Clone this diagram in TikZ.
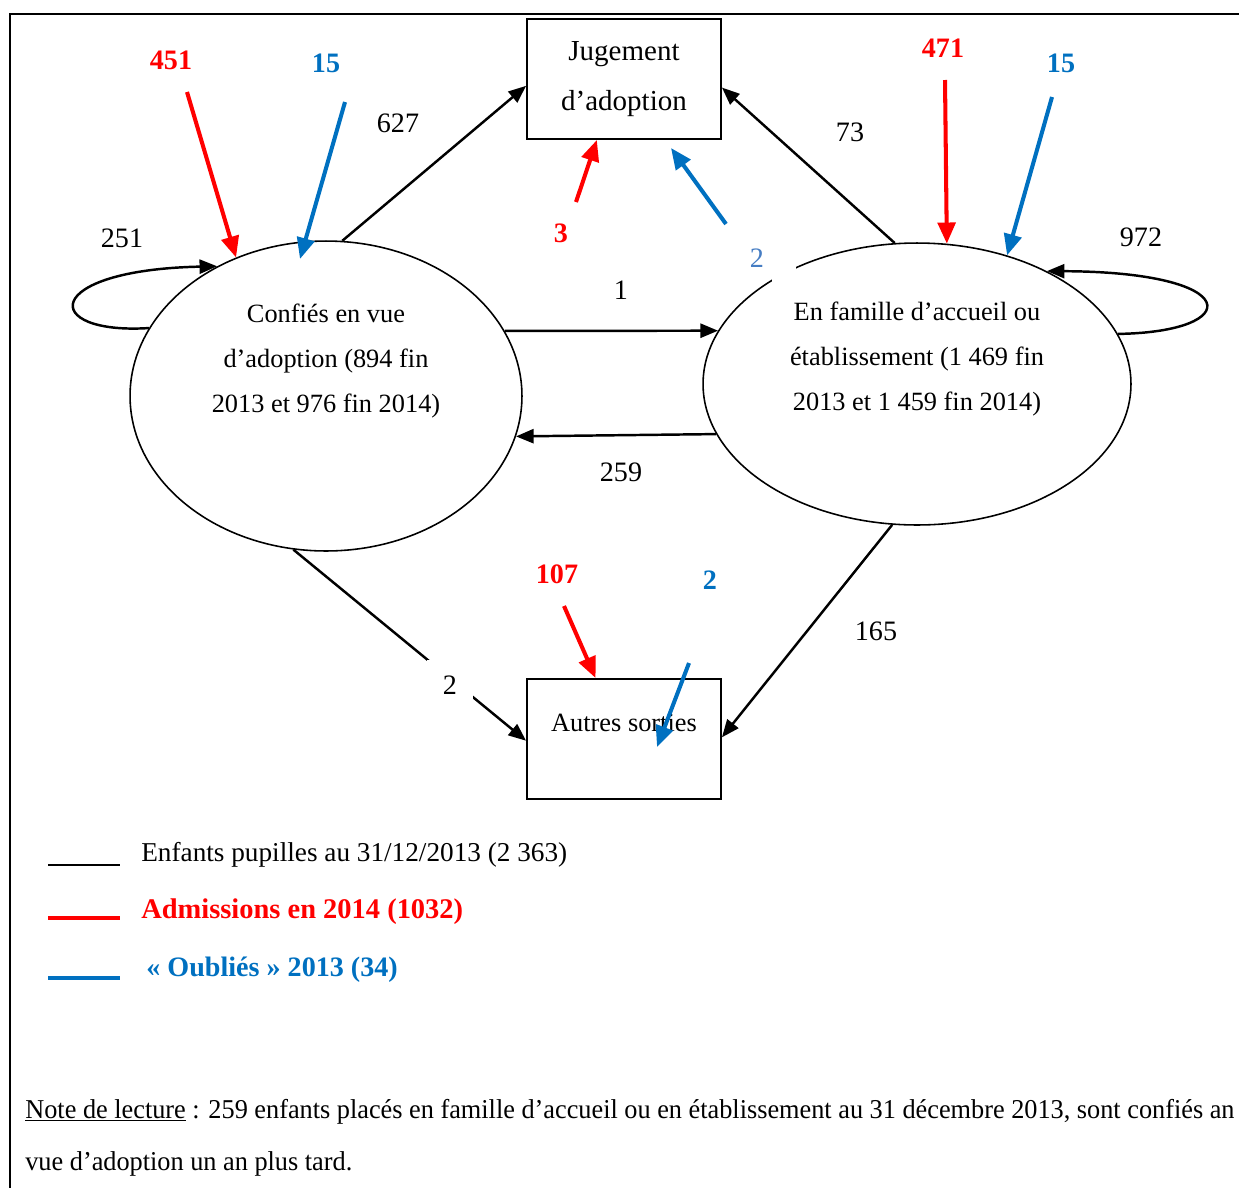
\documentclass[tikz,border=0pt]{standalone}
\usepackage{fontspec}
\usepackage{graphicx}
\setmainfont{Liberation Serif}
\usetikzlibrary{arrows.meta,shapes.geometric,calc}
\definecolor{myred}{RGB}{255,0,0}
\definecolor{myblue}{RGB}{0,112,192}
\definecolor{lightblue}{RGB}{70,125,195}
\tikzset{
  flow/.style={line width=1.4pt,-{Triangle[length=10pt,width=8pt]}},
  redflow/.style={line width=2.3pt,draw=myred,-{Triangle[length=12pt,width=10pt]},myred},
  blueflow/.style={line width=2.3pt,draw=myblue,-{Triangle[length=12pt,width=10pt]},myblue},
  num/.style={font=\fontsize{16}{19}\selectfont,inner sep=1pt},
  rnum/.style={font=\fontsize{16}{19}\selectfont\bfseries,text=myred,inner sep=1pt},
  bnum/.style={font=\fontsize{16}{19}\selectfont\bfseries,text=myblue,inner sep=1pt},
  ell/.style={draw,line width=0.9pt,ellipse,inner sep=0pt},
  boxst/.style={draw,line width=1.1pt,rectangle,inner sep=0pt,minimum width=3.88cm,minimum height=2.4cm},
  bodytext/.style={font=\fontsize{15}{25.5}\selectfont,align=center,inner sep=0pt},
  legtext/.style={font=\fontsize{15.5}{18}\selectfont,anchor=west,inner sep=0pt},
}
\begin{document}
\begin{tikzpicture}[x=0.02cm,y=-0.02cm]
\useasboundingbox (0,0) rectangle (1239,1187);
% frame
\draw[line width=1.2pt] (10,1190) -- (10,14) -- (1245,14);

% main nodes
\node[ell,minimum width=7.84cm,minimum height=6.2cm] (L) at (326,396) {};
\node[ell,minimum width=8.56cm,minimum height=5.64cm] (R) at (917,384) {};
\node[boxst,font=\fontsize{16.5}{28.3}\selectfont,align=center] (J) at (624,79) {Jugement\\d’adoption};
\node[boxst] (A) at (624,739) {};
\node[bodytext] (Atext) at (624,723) {Autres sorties};

% gap in the right ellipse outline
\fill[white] (772,262) rectangle (796,284);

\node[bodytext] (Ltext) at (326,361) {Confiés en vue\\d’adoption (894 fin\\2013 et 976 fin 2014)};
\node[bodytext] (Rtext) at (917,359) {En famille d’accueil ou\\établissement (1 469 fin\\2013 et 1 459 fin 2014)};

% black flows
\draw[flow] (L.84.8) -- (J.184.1);
\draw[flow] (R.99.7) -- (J.355.9);
\draw[flow] (L.20.06) -- (R.165);
\draw[flow] (R.194.65) -- (L.348.1);
\draw[flow] (L.258.7) -- (A.181);
\node[num,fill=white,inner sep=9pt] (n2) at (450,685) {2};
\draw[flow] (R.260.3) -- (A.1.2);
\draw[flow] (L.159.2) .. controls (40,335) and (40,270) .. (L.130.9);
\draw[flow] (R.14.8) .. controls (1245,332) and (1245,272) .. (R.41.2);

% coloured flows
\coordinate (r451) at (187,92);
\coordinate (b15l) at (345,102);
\coordinate (b15lend) at (300,259);
\coordinate (r471) at (945,80);
\coordinate (b15r) at (1052,97);
\coordinate (r3) at (576,202);
\coordinate (b2j) at (726,224);
\coordinate (b2jend) at (671,148);
\coordinate (r107) at (564,606);
\coordinate (b2a) at (689,663);
\coordinate (b2aend) at (657,747);

\draw[redflow] (r451) -- (L.123);
\draw[blueflow] (b15l) -- (b15lend);
\draw[redflow] (r471) -- (R.78.5);
\draw[blueflow] (b15r) -- (R.55);
\draw[redflow] (r3) -- (J.246);
\draw[blueflow] (b2j) -- (b2jend);
\draw[redflow] (r107) -- (A.115);
\draw[blueflow] (b2a) -- (b2aend);

% labels
\node[rnum] (l451) at (171,60) {451};
\node[bnum] (l15l) at (326,63) {15};
\node[num] (l627) at (398,123) {627};
\node[num] (l251) at (122,238) {251};
\node[rnum] (l471) at (943,48) {471};
\node[bnum] (l15r) at (1061,63) {15};
\node[num] (l73) at (850,132) {73};
\node[num] (l972) at (1141,237) {972};
\node[rnum] (l3) at (561,233) {3};
\node[num,text=lightblue] (l2j) at (757,258) {2};
\node[num] (l1) at (621,290) {1};
\node[num] (l259) at (621,472) {259};
\node[rnum] (l107) at (557,574) {107};
\node[bnum] (l2a) at (710,580) {2};
\node[num] (l165) at (876,631) {165};

% legend
\coordinate (k1a) at (48,865); \coordinate (k1b) at (120,865);
\coordinate (k2a) at (48,918); \coordinate (k2b) at (120,918);
\coordinate (k3a) at (48,978); \coordinate (k3b) at (120,978);
\draw[line width=1.3pt] (k1a) -- (k1b);
\draw[line width=2.4pt,myred] (k2a) -- (k2b);
\draw[line width=2.4pt,myblue] (k3a) -- (k3b);
\node[legtext] (t1) at (141,855) {Enfants pupilles au 31/12/2013 (2 363)};
\node[legtext,font=\fontsize{16.2}{19}\selectfont\bfseries,text=myred] (t2) at (141,912) {Admissions en 2014 (1032)};
\node[legtext,font=\fontsize{16}{19}\selectfont\bfseries,text=myblue] (t3) at (146,970) {« Oubliés » 2013 (34)};

% note
\node[legtext,anchor=base west] (note1) at (25,1118) {\scalebox{0.965}[1]{\underline{Note de lecture} : 259 enfants placés en famille d’accueil ou en établissement au 31 décembre 2013, sont confiés an}};
\node[legtext,anchor=base west] (note2) at (25,1170) {\scalebox{0.965}[1]{vue d’adoption un an plus tard.}};
\end{tikzpicture}
\end{document}
